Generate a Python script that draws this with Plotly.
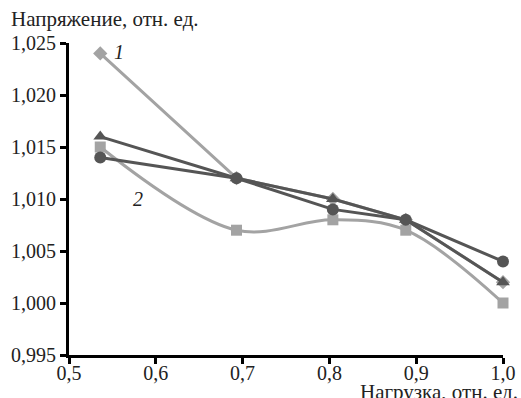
import plotly.graph_objects as go

load = [0.536, 0.693, 0.804, 0.888, 1.0]
s1 = [1.024, 1.012, 1.010, 1.008, 1.002]
s2 = [1.015, 1.007, 1.008, 1.007, 1.000]
s3 = [1.016, 1.012, 1.010, 1.008, 1.002]
s4 = [1.014, 1.012, 1.009, 1.008, 1.004]
y_ticks = [0.995, 1.000, 1.005, 1.010, 1.015, 1.020, 1.025]
x_ticks = [0.5, 0.6, 0.7, 0.8, 0.9, 1.0]

LIGHT = "#a3a3a3"
DARK = "#555555"
FONT = "Liberation Serif"

fig = go.Figure()
fig.add_trace(go.Scatter(x=load, y=s1, mode="lines+markers", line=dict(color=LIGHT, width=3),
                         marker=dict(symbol="diamond", size=11, color=LIGHT), cliponaxis=False))
fig.add_trace(go.Scatter(x=load, y=s2, mode="lines+markers", line=dict(color=LIGHT, width=3, shape="spline", smoothing=1.0),
                         marker=dict(symbol="square", size=11, color=LIGHT), cliponaxis=False))
fig.add_trace(go.Scatter(x=load, y=s3, mode="lines+markers", line=dict(color=DARK, width=3),
                         marker=dict(symbol="triangle-up", size=12, color=DARK), cliponaxis=False))
fig.add_trace(go.Scatter(x=load, y=s4, mode="lines+markers", line=dict(color=DARK, width=3),
                         marker=dict(symbol="circle", size=12, color=DARK), cliponaxis=False))

labels = [("1", 0.558, 1.0241), ("2", 0.580, 1.0100), ("3", 1.017, 1.0015), ("4", 1.016, 1.0041)]
for t, x, y in labels:
    fig.add_annotation(x=x, y=y, text="<i>" + t + "</i>", showarrow=False,
                       font=dict(family=FONT, size=20, color="#222"),
                       xanchor="center", yanchor="middle")

fig.add_annotation(xref="paper", yref="paper", x=-0.138, y=1.078, text="Напряжение, отн. ед.", showarrow=False,
                   xanchor="left", yanchor="middle", font=dict(family=FONT, size=21, color="#222"))
fig.add_annotation(xref="paper", yref="paper", x=1.04, y=-0.117, text="Нагрузка, отн. ед.", showarrow=False,
                   xanchor="right", yanchor="middle", font=dict(family=FONT, size=21, color="#222"))

fig.update_layout(
    width=521, height=398,
    margin=dict(l=69, r=18, t=43, b=43),
    paper_bgcolor="white", plot_bgcolor="white",
    showlegend=False,
    separators=", ",
    font=dict(family=FONT, size=20, color="#222"),
    xaxis=dict(range=[0.5, 1.0], tickvals=x_ticks, tickformat=".1f", showgrid=False, zeroline=False,
               showline=True, linecolor="black", linewidth=3, ticks="outside", ticklen=6, tickwidth=3,
               tickcolor="black", tickfont=dict(size=20, family=FONT), automargin=False,
               ticklabelstandoff=-8),
    yaxis=dict(range=[0.995, 1.025], tickvals=y_ticks, tickformat=".3f", showgrid=False, zeroline=False,
               showline=True, linecolor="black", linewidth=3, ticks="outside", ticklen=6, tickwidth=3,
               tickcolor="black", tickfont=dict(size=20, family=FONT), automargin=False),
)

fig.write_html("out.html", config={"displayModeBar": False},
               post_script="document.body.style.margin='0';")
